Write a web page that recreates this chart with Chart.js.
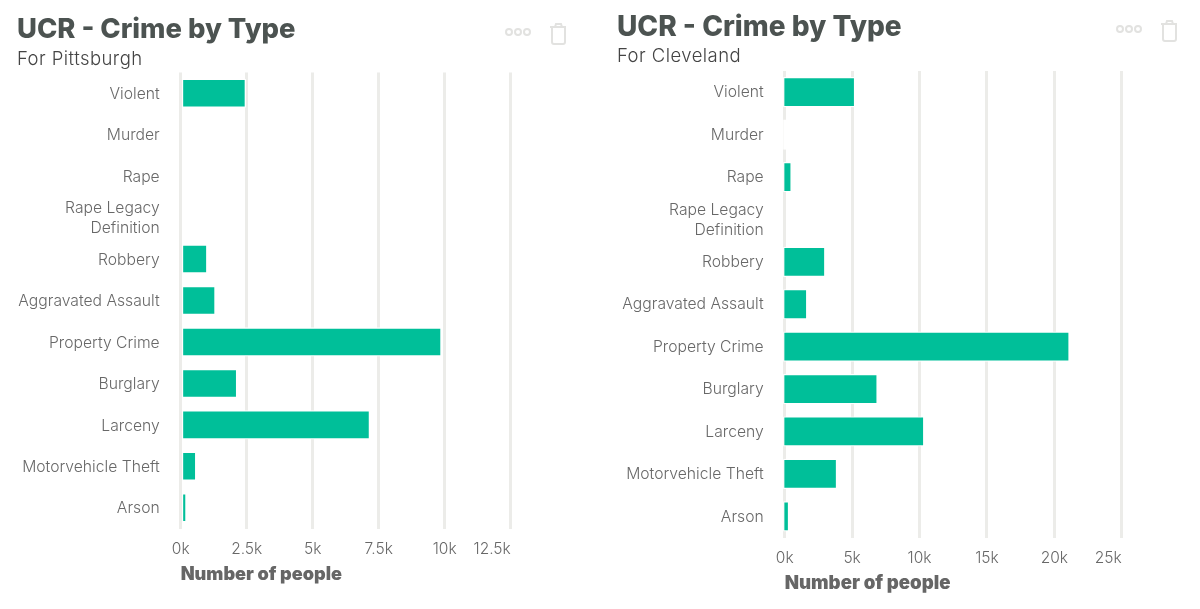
<!DOCTYPE html>
<html>
<head>
<meta charset="utf-8">
<title>UCR - Crime by Type</title>
<script src="https://cdn.jsdelivr.net/npm/chart.js@4/dist/chart.umd.min.js"></script>
<style>
  html, body { margin: 0; padding: 0; background: #fff; }
  body { position: relative; width: 1200px; height: 609px; overflow: hidden; font-family: Inter, sans-serif; }
  canvas { position: absolute; top: 0; }
  #chartLeft { left: 0; }
  #chartRight { left: 600px; }
  h2, p { position: absolute; margin: 0; white-space: nowrap; }
  h2 { font-weight: 800; color: #4c5351; line-height: 32px; }
  p { font-size: 18.5px; font-weight: 300; color: #444; line-height: 22px; letter-spacing: 0.45px; }
  svg { position: absolute; }
</style>
</head>
<body>
<canvas id="chartLeft" width="600" height="609"></canvas>
<canvas id="chartRight" width="600" height="609"></canvas>

<h2 style="left:17px;top:12px;font-size:27.4px">UCR - Crime by Type</h2>
<p style="left:17px;top:47px">For Pittsburgh</p>
<h2 style="left:617px;top:10px;font-size:28px">UCR - Crime by Type</h2>
<p style="left:617px;top:44px">For Cleveland</p>

<svg style="left:500px;top:20px" width="72" height="28" fill="none" stroke="#e2e2e0" stroke-width="2">
  <circle cx="9" cy="12" r="3"/><circle cx="18" cy="12" r="3"/><circle cx="27" cy="12" r="3"/>
  <path d="M50 7h16M55 7l1-3h5l1 3M52 7v15q0 2 2 2h9q2 0 2-2V7"/>
</svg>
<svg style="left:1111px;top:17px" width="72" height="28" fill="none" stroke="#e2e2e0" stroke-width="2">
  <circle cx="9" cy="12" r="3"/><circle cx="18" cy="12" r="3"/><circle cx="27" cy="12" r="3"/>
  <path d="M50 7h16M55 7l1-3h5l1 3M52 7v15q0 2 2 2h9q2 0 2-2V7"/>
</svg>

<script>
const categories = ['Violent', 'Murder', 'Rape', ['Rape Legacy', 'Definition'], 'Robbery',
  'Aggravated Assault', 'Property Crime', 'Burglary', 'Larceny', 'Motorvehicle Theft', 'Arson'];
const pittsburghValues = [2460, null, null, null, 1000, 1310, 9870, 2130, 7160, 580, 210];
const clevelandValues = [5200, 130, 490, null, 2990, 1650, 21110, 6870, 10330, 3860, 300];
const pittsburghTicks = [0, 2500, 5000, 7500, 10000, 12500];
const clevelandTicks = [0, 5000, 10000, 15000, 20000, 25000];

const TEAL = '#00bf99';
const GRID = '#ecece9';
const TEXT = '#686868';

// last tick label sits inside the axis end, the others are centered
const alignLastTick = {
  id: 'alignLastTick',
  beforeDraw(chart) {
    const items = chart.scales.x.getLabelItems(chart.chartArea);
    items[items.length - 1].options.textAlign = 'right';
  }
};

function drawChart(id, values, ticks, box) {
  new Chart(document.getElementById(id), {
    type: 'bar',
    data: {
      labels: categories,
      datasets: [{
        data: values,
        // very small bars only show their white outline
        backgroundColor: ctx => (ctx.raw < 200 ? '#ffffff' : TEAL),
        borderColor: '#ffffff',
        borderWidth: box.border,
        borderSkipped: false,
        barThickness: box.thickness,
        base: box.base,
        clip: false
      }]
    },
    plugins: [alignLastTick],
    options: {
      indexAxis: 'y',
      responsive: false,
      animation: false,
      layout: { padding: { top: box.top, right: box.right, left: 0, bottom: 0 } },
      plugins: { legend: { display: false }, tooltip: { enabled: false } },
      scales: {
        x: {
          min: ticks[0],
          max: ticks[ticks.length - 1],
          afterFit: s => { s.height = 609 - box.bottom; },
          afterBuildTicks: s => { s.ticks = ticks.map(v => ({ value: v })); },
          grid: { color: GRID, lineWidth: 3, drawTicks: false },
          border: { display: false },
          ticks: {
            color: TEXT,
            font: { family: 'Inter', size: 15.5, weight: '300' },
            padding: box.tickPad,
            maxRotation: 0,
            autoSkip: false,
            callback: v => (v / 1000) + 'k'
          },
          title: {
            display: true,
            text: 'Number of people',
            align: 'start',
            color: '#666666',
            font: { family: 'Inter', size: box.titleSize, weight: '900' },
            padding: { top: 0, bottom: box.titleBottom }
          }
        },
        y: {
          afterFit: s => { s.width = box.left; },
          grid: { display: false, drawTicks: false },
          border: { display: false },
          ticks: {
            color: TEXT,
            font: { family: 'Inter', size: 15.7, weight: '300', lineHeight: 1.28 },
            padding: 21,
            labelOffset: box.labelOffset,
            autoSkip: false
          }
        }
      }
    }
  });
}

drawChart('chartLeft', pittsburghValues, pittsburghTicks, {
  left: 180.7, right: 89.3, top: 72.5, bottom: 528.5,
  border: 1.3, thickness: 28.5, base: 0, tickPad: 12, titleBottom: 24, titleSize: 18.1, labelOffset: 1
});
drawChart('chartRight', clevelandValues, clevelandTicks, {
  left: 184.7, right: 78.3, top: 71, bottom: 537.5,
  border: 1.2, thickness: 29.5, base: -90, tickPad: 12, titleBottom: 14, titleSize: 18.6, labelOffset: 0.5
});
</script>
</body>
</html>
